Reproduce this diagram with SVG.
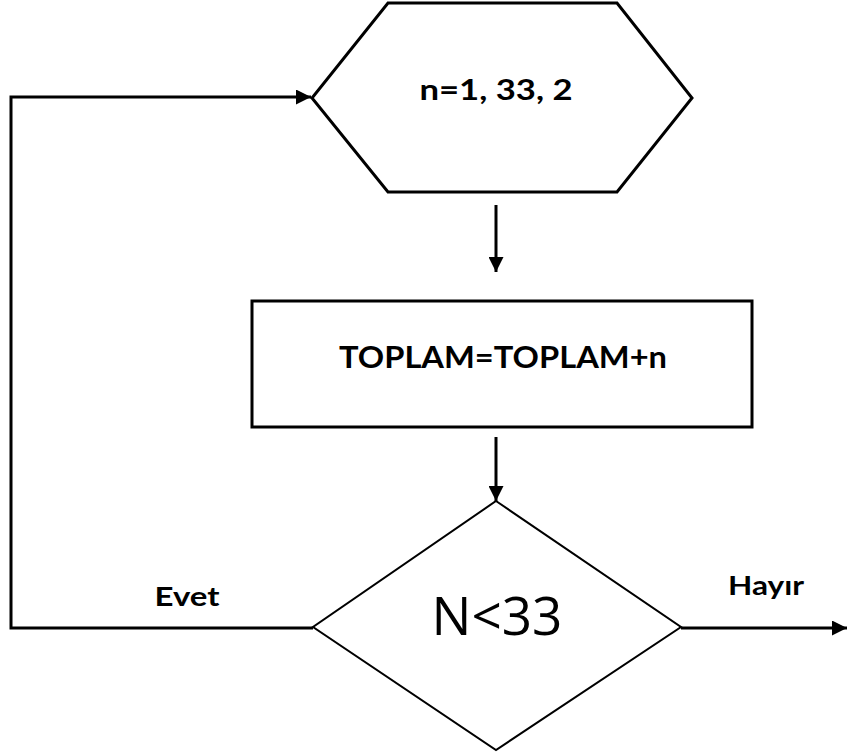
<svg xmlns="http://www.w3.org/2000/svg" width="848" height="754" viewBox="0 0 848 754">
<style>
.shape{fill:#fff;stroke:#000;stroke-width:3}
.thin{fill:#fff;stroke:#000;stroke-width:2}
.line{fill:none;stroke:#000;stroke-width:3}
.b{font-family:Lato,"Liberation Sans",Arial,sans-serif;font-weight:bold;fill:#000}
.r{font-family:"Open Sans","Liberation Sans",Arial,sans-serif;fill:#000}
</style>
<defs>
<marker id="ah" markerWidth="5" markerHeight="5" refX="5" refY="2.5" orient="auto" markerUnits="strokeWidth">
<path d="M0,0 L5,2.5 L0,5 Z" fill="#000"/>
</marker>
</defs>
<rect width="848" height="754" fill="#fff"/>
<g id="connectors">
<path class="line" d="M496,205 L496,272" marker-end="url(#ah)"/>
<path class="line" d="M496,437 L496,501" marker-end="url(#ah)"/>
<path class="line" d="M313,628 L11,628 L11,97 L311,97" marker-end="url(#ah)"/>
<path class="line" d="M681,628 L847,628" marker-end="url(#ah)"/>
</g>
<g id="loop">
<polygon class="shape" points="388,3 617,3 692,98 617,192 388,192 312,98"/>
<text class="b" x="496" y="100" font-size="29" text-anchor="middle" textLength="153" lengthAdjust="spacingAndGlyphs">n=1, 33, 2</text>
</g>
<g id="process">
<rect class="shape" x="252" y="301" width="500" height="126"/>
<text class="b" x="503" y="368" font-size="30" text-anchor="middle" textLength="328" lengthAdjust="spacingAndGlyphs">TOPLAM=TOPLAM+n</text>
</g>
<g id="decision">
<polygon class="thin" points="496,501 681,627 496,750 313,627"/>
<text class="r" x="497" y="635" font-size="53" text-anchor="middle">N&lt;33</text>
</g>
<g id="labels">
<text class="b" x="187" y="606" font-size="27" text-anchor="middle" textLength="65" lengthAdjust="spacingAndGlyphs">Evet</text>
<text class="b" x="766" y="595" font-size="27" text-anchor="middle" textLength="76" lengthAdjust="spacingAndGlyphs">Hayır</text>
</g>
</svg>
